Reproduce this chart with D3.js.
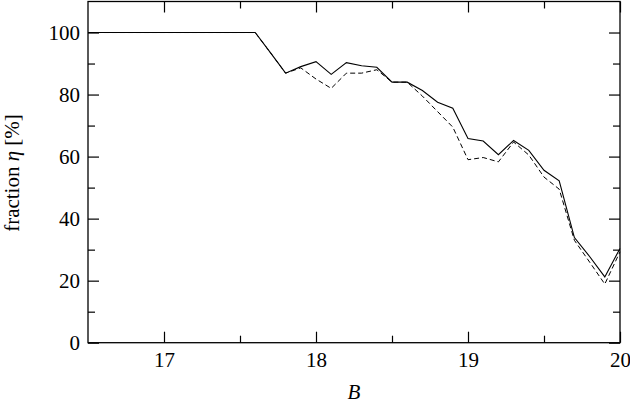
<!DOCTYPE html>
<html><head><meta charset="utf-8">
<script src="https://cdn.jsdelivr.net/npm/d3@7"></script>
<style>body{margin:0;background:#fff}svg{display:block}</style>
</head><body><svg id="c" width="630" height="405"></svg>
<script>
const B = [16.5,17.6,17.7,17.8,17.9,18.0,18.1,18.2,18.3,18.4,18.5,18.6,18.7,18.8,18.9,19.0,19.1,19.2,19.3,19.4,19.5,19.6,19.7,19.8,19.9,20.0];
const solid = [100,100,93.5,86.9,89.0,90.6,86.5,90.3,89.3,88.8,84.0,84.0,81.3,77.5,75.6,65.8,65.0,60.6,65.2,62.0,55.6,52.2,33.9,27.8,21.2,30.4];
const dashed = [100,100,93.5,86.9,88.6,85.0,82.0,86.9,86.9,88.0,84.0,84.0,79.5,74.5,69.5,59.0,59.7,58.3,64.7,60.5,53.4,49.5,33.0,26.0,18.9,29.3];
const xMajor = [17,18,19,20];
const xMinor = [17.5,18.5,19.5];
const yMajor = [0,20,40,60,80,100];
const yMinor = [10,30,50,70,90];
const FONT = "'Liberation Serif', 'DejaVu Serif', serif";
const FS = 21;

const svg = d3.select("#c");
const L=88,R=620,T=1.5,Bt=342.7;
const x = d3.scaleLinear().domain([16.5,20]).range([L,R]);
const y = d3.scaleLinear().domain([0,110]).range([Bt,T]);

const g = svg.append("g");
const line = d3.line().x((d,i)=>x(B[i])).y(d=>y(d));
g.append("path").datum(dashed).attr("d",line).attr("fill","none").attr("stroke","#000").attr("stroke-width",1).attr("stroke-dasharray","5,3");
g.append("path").datum(solid).attr("d",line).attr("fill","none").attr("stroke","#000").attr("stroke-width",1.1);

function ax(axis, tr){ const a=g.append("g").attr("transform",tr).call(axis); a.attr("font-family",FONT).attr("font-size",FS); a.select(".domain").remove(); a.selectAll("line").attr("stroke","#000").attr("stroke-width",1.2); a.selectAll("text").attr("fill","#000"); return a; }
ax(d3.axisBottom(x).tickValues(xMajor).tickSize(-11).tickPadding(9).tickFormat(d3.format("d")),`translate(0,${Bt})`);
ax(d3.axisBottom(x).tickValues(xMinor).tickSize(-7).tickFormat(""),`translate(0,${Bt})`);
ax(d3.axisTop(x).tickValues(xMajor).tickSize(-11).tickFormat(""),`translate(0,${T})`);
ax(d3.axisTop(x).tickValues(xMinor).tickSize(-7).tickFormat(""),`translate(0,${T})`);
ax(d3.axisLeft(y).tickValues(yMajor).tickSize(-11).tickPadding(8).tickFormat(d3.format("d")),`translate(${L},0)`);
ax(d3.axisLeft(y).tickValues(yMinor).tickSize(-7).tickFormat(""),`translate(${L},0)`);
ax(d3.axisRight(y).tickValues(yMajor).tickSize(-11).tickFormat(""),`translate(${R},0)`);
ax(d3.axisRight(y).tickValues(yMinor).tickSize(-7).tickFormat(""),`translate(${R},0)`);

g.append("rect").attr("x",L).attr("y",T).attr("width",R-L).attr("height",Bt-T).attr("fill","none").attr("stroke","#000").attr("stroke-width",1.3);

svg.append("text").attr("x",(L+R)/2).attr("y",399).attr("text-anchor","middle").attr("font-family",FONT).attr("font-size",FS).attr("font-style","italic").text("B");
const yl = svg.append("text").attr("transform","translate(19,173) rotate(-90)").attr("text-anchor","middle").attr("font-family",FONT).attr("font-size",FS);
yl.append("tspan").text("fraction ");
yl.append("tspan").attr("font-style","italic").text("η");
yl.append("tspan").text(" [%]");
</script></body></html>
